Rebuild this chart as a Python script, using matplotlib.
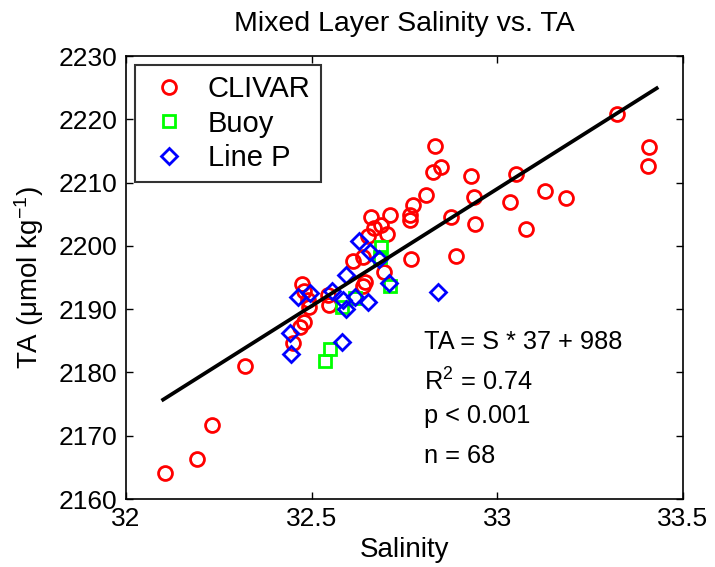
import numpy as np
import matplotlib
matplotlib.use("Agg")
import matplotlib.pyplot as plt

plt.rcParams['font.family'] = ['Liberation Sans', 'DejaVu Sans']
plt.rcParams['mathtext.default'] = 'regular'

# mixed layer salinity / total alkalinity by source
clivar_s = [32.104, 32.191, 32.231, 32.321, 32.451, 32.468, 32.481, 32.493, 32.473, 32.480,
            32.548, 32.545, 32.613, 32.638, 32.653, 32.659, 32.669, 32.686, 32.704, 32.711,
            32.694, 32.638, 32.643, 32.766, 32.766, 32.774, 32.769, 32.809, 32.826, 32.850,
            32.832, 32.877, 32.889, 32.929, 32.937, 32.940, 33.036, 33.052, 33.077, 33.128,
            33.185, 33.322, 33.410, 33.407, 32.490]
clivar_ta = [2164.1, 2166.4, 2171.7, 2181.0, 2184.6, 2187.2, 2188.0, 2190.4, 2194.0, 2192.9,
             2190.6, 2192.3, 2197.6, 2198.3, 2201.6, 2204.6, 2202.8, 2203.3, 2201.9, 2204.8,
             2195.8, 2193.6, 2194.3, 2204.1, 2204.9, 2206.5, 2197.9, 2208.1, 2211.7, 2212.4,
             2215.8, 2204.6, 2198.4, 2211.1, 2207.7, 2203.5, 2207.0, 2211.3, 2202.6, 2208.7,
             2207.5, 2220.9, 2215.6, 2212.6, 2191.5]

buoy_s = [32.535, 32.550, 32.581, 32.617, 32.686, 32.684, 32.711]
buoy_ta = [2181.8, 2183.7, 2190.4, 2191.7, 2199.9, 2198.3, 2193.6]

linep_s = [32.445, 32.441, 32.463, 32.495, 32.556, 32.581, 32.593, 32.593, 32.617, 32.585,
           32.651, 32.628, 32.658, 32.682, 32.709, 32.842]
linep_ta = [2182.9, 2186.2, 2192.0, 2192.6, 2192.8, 2184.8, 2195.4, 2190.0, 2192.0, 2191.4,
            2191.2, 2200.7, 2199.1, 2197.9, 2194.1, 2192.7]

slope = 37
intercept = 988
fit_s = np.array([32.10, 33.43])

fig = plt.figure(figsize=(7.15, 5.67), dpi=100)
ax = fig.add_axes([0.1762, 0.1199, 0.7786, 0.7813])

ax.plot(clivar_s, clivar_ta, 'o', ls='none', mfc='none', mec='red', ms=10, mew=2.0, label='CLIVAR')
ax.plot(buoy_s, buoy_ta, 's', ls='none', mfc='none', mec=(0, 1, 0), ms=8.5, mew=2.0, label='Buoy')
ax.plot(linep_s, linep_ta, 'D', ls='none', mfc='none', mec='blue', ms=7.8, mew=2.0, label='Line P')
ax.plot(fit_s, slope * fit_s + intercept, color='black', lw=2.7)

ax.set_xlim(32, 33.5)
ax.set_ylim(2160, 2230)
ax.set_xticks([32, 32.5, 33, 33.5])
ax.set_xticklabels(['32', '32.5', '33', '33.5'])
ax.set_yticks(np.arange(2160, 2231, 10))
ax.tick_params(direction='in', top=True, right=True, length=5, width=1, labelsize=19, pad=6)
for sp in ax.spines.values():
    sp.set_linewidth(1.2)

ax.set_title('Mixed Layer Salinity vs. TA', fontsize=20.5, pad=18)
ax.set_xlabel('Salinity', fontsize=20, labelpad=4)
ax.set_ylabel('TA (\u03bcmol kg$^{-1}$)', fontsize=20, labelpad=9)

leg = ax.legend(loc='upper left', bbox_to_anchor=(0.0162, 0.9797), borderaxespad=0,
                fancybox=False, fontsize=21, handletextpad=0.55, borderpad=0.35,
                labelspacing=0.22, handlelength=1.6)
leg.get_frame().set_edgecolor('black')
leg.get_frame().set_linewidth(1.5)

stats = ['TA = S * 37 + 988', 'R$^2$ = 0.74', 'p < 0.001', 'n = 68']
ys = [2183.66, 2177.1, 2171.96, 2165.74]
for t, y in zip(stats, ys):
    ax.text(32.804, y, t, fontsize=18.3, va='baseline', ha='left')

fig.savefig('out.png', dpi=100)
